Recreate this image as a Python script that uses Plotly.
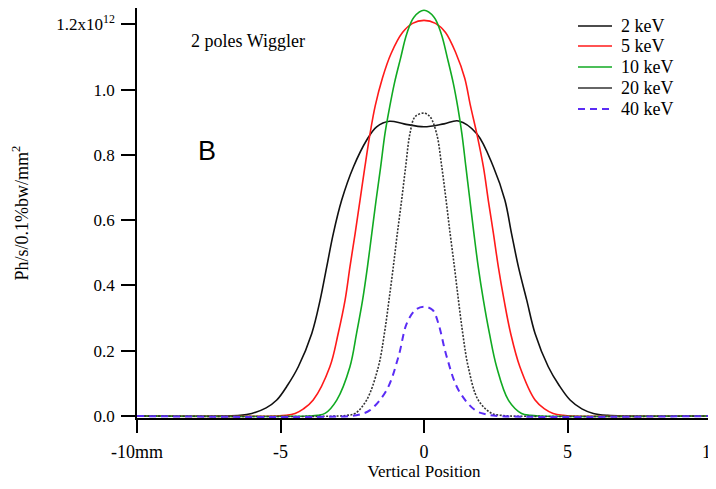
import plotly.graph_objects as go

# ---- data (units of 1e12 Ph/s/0.1%bw/mm^2), x in mm ----
x_2kev = [-10, -7.0, -6.4, -6.0, -5.5, -5.13, -4.75, -4.38, -3.91, -3.62, -3.39, -3.16, -2.87, -2.46, -2.0, -1.65, -1.2, -0.7, 0,
          0.7, 1.2, 1.84, 2.42, 2.82, 3.05, 3.29, 3.58, 3.87, 4.33, 4.7, 5.09, 5.5, 5.9, 6.4, 7.0, 10]
y_2kev = [0, 0, 0.002, 0.008, 0.025, 0.049, 0.095, 0.151, 0.253, 0.355, 0.457, 0.559, 0.661, 0.763, 0.845, 0.886, 0.903, 0.895, 0.886,
          0.895, 0.904, 0.865, 0.763, 0.661, 0.559, 0.457, 0.355, 0.253, 0.151, 0.095, 0.049, 0.022, 0.008, 0.002, 0, 0]

x_5kev = [-10, -5.2, -4.8, -4.49, -4.2, -3.86, -3.28, -2.99, -2.75, -2.58, -2.40, -2.23, -2.06, -1.88, -1.70, -1.45, -1.15, -0.75, -0.4, 0,
          0.4, 0.75, 1.12, 1.42, 1.62, 1.84, 2.07, 2.24, 2.42, 2.59, 2.79, 3.02, 3.34, 3.87, 4.2, 4.5, 4.85, 5.2, 10]
y_5kev = [0, 0, 0.002, 0.008, 0.022, 0.049, 0.151, 0.253, 0.355, 0.457, 0.559, 0.661, 0.763, 0.865, 0.950, 1.035, 1.110, 1.175, 1.203, 1.212,
          1.203, 1.175, 1.110, 1.035, 0.950, 0.865, 0.763, 0.661, 0.559, 0.457, 0.355, 0.253, 0.151, 0.049, 0.022, 0.008, 0.002, 0, 0]

x_10kev = [-10, -4.0, -3.7, -3.45, -3.04, -2.58, -2.35, -2.14, -1.97, -1.82, -1.67, -1.51, -1.36, -1.20, -1.03, -0.82, -0.60, -0.35, 0,
           0.35, 0.60, 0.82, 1.02, 1.18, 1.32, 1.46, 1.60, 1.74, 1.89, 2.07, 2.28, 2.53, 2.94, 3.4, 3.7, 4.0, 10]
y_10kev = [0, 0, 0.002, 0.008, 0.049, 0.151, 0.253, 0.355, 0.457, 0.559, 0.661, 0.763, 0.865, 0.945, 1.020, 1.095, 1.171, 1.222, 1.243,
           1.222, 1.171, 1.095, 1.020, 0.945, 0.865, 0.763, 0.661, 0.559, 0.457, 0.355, 0.253, 0.151, 0.049, 0.008, 0.002, 0, 0]

x_20kev = [-10, -3.0, -2.7, -2.40, -2.0, -1.59, -1.38, -1.22, -1.07, -0.93, -0.78, -0.64, -0.49, -0.31, 0,
           0.21, 0.44, 0.62, 0.77, 0.91, 1.06, 1.2, 1.35, 1.54, 1.89, 2.36, 2.7, 3.0, 10]
y_20kev = [0, 0, 0.002, 0.008, 0.049, 0.151, 0.253, 0.355, 0.457, 0.559, 0.661, 0.763, 0.865, 0.917, 0.928,
           0.917, 0.865, 0.763, 0.661, 0.559, 0.457, 0.355, 0.253, 0.151, 0.049, 0.008, 0.002, 0, 0]

x_40kev = [-10, -2.6, -2.23, -1.88, -1.30, -0.89, -0.60, -0.3, 0, 0.3, 0.50, 0.79, 1.20, 1.78, 2.18, 2.6, 10]
y_40kev = [0, 0, 0.005, 0.018, 0.080, 0.182, 0.284, 0.325, 0.335, 0.325, 0.284, 0.182, 0.080, 0.018, 0.005, 0, 0]

series_names = ["2 keV", "5 keV", "10 keV", "20 keV", "40 keV"]

x_ticks = [-10, -5, 0, 5, 10]
x_ticktext = ["-10mm", "-5", "0", "5", "10"]
y_ticks = [0, 0.2, 0.4, 0.6, 0.8, 1.0, 1.2]
y_ticktext = ["0.0", "0.2", "0.4", "0.6", "0.8", "1.0", "1.2x10<sup>12</sup>"]

SERIF = "Liberation Serif, Times New Roman, Times, serif"

styles = [
    dict(color="#111111", width=1.6, dash="solid"),
    dict(color="#ff1a1a", width=1.6, dash="solid"),
    dict(color="#11aa22", width=1.6, dash="solid"),
    dict(color="#333333", width=1.6, dash="2px,1.5px"),
    dict(color="#5a2cf5", width=2.0, dash="7px,5px"),
]
legend_line_dash = ["solid", "solid", "solid", "solid", "7px,5px"]

# page is offset by the 8px body margin: plot area spans page x 137..711, y 8..418
PL, PR, PT, PB = 137, 711, 8, 418
def px(xp):
    return (xp - PL) / (PR - PL)
def py(yp):
    return (PB - yp) / (PB - PT)

fig = go.Figure()
for name, xs, ys, st in zip(series_names,
                            [x_2kev, x_5kev, x_10kev, x_20kev, x_40kev],
                            [y_2kev, y_5kev, y_10kev, y_20kev, y_40kev],
                            styles):
    fig.add_trace(go.Scatter(x=xs, y=ys, mode="lines", name=name, showlegend=False,
                             line=dict(shape="spline", smoothing=1.0, **st)))

# legend drawn Igor-style (tight rows)
legend_rows_y = [26, 46, 67, 88, 109]
shapes = []
annotations = []
for name, st, ld, ry in zip(series_names, styles, legend_line_dash, legend_rows_y):
    shapes.append(dict(type="line", xref="paper", yref="paper",
                       x0=px(578), x1=px(612), y0=py(ry), y1=py(ry),
                       line=dict(color=st["color"], width=st["width"], dash=ld)))
    annotations.append(dict(text=name, xref="paper", yref="paper",
                            x=px(619), y=py(ry), xanchor="left", yanchor="middle",
                            showarrow=False, font=dict(family=SERIF, size=18)))

annotations += [
    dict(text="2 poles Wiggler", xref="paper", yref="paper",
         x=px(189), y=py(41), xanchor="left", yanchor="middle",
         showarrow=False, font=dict(family=SERIF, size=18)),
    dict(text="B", xref="paper", yref="paper",
         x=px(196), y=py(151), xanchor="left", yanchor="middle",
         showarrow=False, font=dict(family="Liberation Sans, Arial, sans-serif", size=27)),
]

fig.update_layout(
    width=708, height=481,
    margin=dict(l=PL - 8, r=708 - (PR - 8), t=PT - 8, b=481 - (PB - 8), autoexpand=False),
    paper_bgcolor="white", plot_bgcolor="white",
    font=dict(family=SERIF, size=18, color="black"),
    showlegend=False,
    xaxis=dict(range=[-10, 10], tickvals=x_ticks, ticktext=x_ticktext,
               showline=True, linecolor="black", linewidth=1.5,
               ticks="outside", ticklen=13, tickwidth=1.5, tickcolor="black",
               ticklabelstandoff=4, ticklabeloverflow="allow",
               showgrid=False, zeroline=False, automargin=False,
               title=dict(text="Vertical Position", font=dict(family=SERIF, size=17), standoff=2),
               tickfont=dict(family=SERIF, size=18)),
    yaxis=dict(range=[-0.006, 1.25], tickvals=y_ticks, ticktext=y_ticktext,
               showline=True, linecolor="black", linewidth=1.5,
               ticks="outside", ticklen=14, tickwidth=1.5, tickcolor="black",
               ticklabelstandoff=3,
               showgrid=False, zeroline=False, automargin=False,
               title=dict(text="Ph/s/0.1%bw/mm<sup>2</sup>", font=dict(family=SERIF, size=18), standoff=23),
               tickfont=dict(family=SERIF, size=17)),
    shapes=shapes,
    annotations=annotations,
)

fig.write_html("out.html")
